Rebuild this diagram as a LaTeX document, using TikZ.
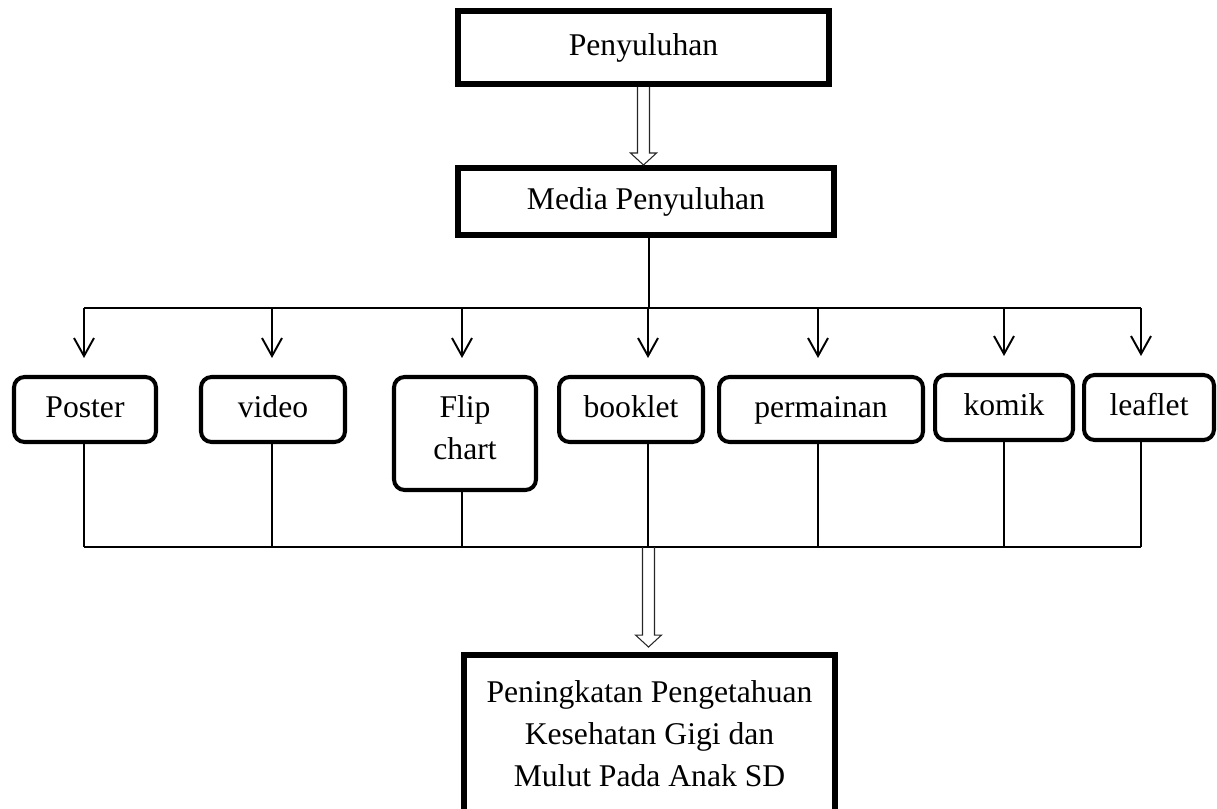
\documentclass[tikz,border=0pt]{standalone}
\usepackage{fontspec}
\setmainfont{Liberation Serif}
\usetikzlibrary{positioning, calc, arrows.meta}

% panah putih berongga (dari #1 ke ujung #2)
\newcommand{\panahhampa}[2]{%
  \draw[hampa] ($(#1)+(-6,0)$) -- ($(#2)+(-6,-12)$) -- ($(#2)+(-13,-12)$) -- (#2)
    -- ($(#2)+(13,-12)$) -- ($(#2)+(6,-12)$) -- ($(#1)+(6,0)$);}

\begin{document}
\begin{tikzpicture}[x=0.02cm, y=-0.02cm,
  kotak/.style={draw, line width=3.4pt, align=center, inner sep=0pt, font=\fontsize{18}{24}\selectfont},
  jenis/.style={draw, line width=2.3pt, rounded corners=6pt, align=center, inner sep=0pt, minimum height=1.30cm, font=\fontsize{18}{24}\selectfont, execute at begin node=\strut},
  garis/.style={line width=1.1pt},
  panah/.style={garis, -{Straight Barb[length=0.36cm, width=0.4cm]}, shorten >=0.34cm},
  hampa/.style={line width=0.6pt, black!85, line join=miter}]
\useasboundingbox (0,0) rectangle (1217,808);

% LAPIS 1: kotak utama
\node[kotak, minimum width=7.42cm, minimum height=1.46cm] (penyuluhan) at (643.5,47.5) {Penyuluhan};
\node[kotak, minimum width=7.52cm, minimum height=1.34cm] (media) at (646,201.5) {Media Penyuluhan};
\node[kotak, minimum width=7.42cm, minimum height=3.14cm] (hasil) at (649.5,733.5) {Peningkatan Pengetahuan\\Kesehatan Gigi dan\\Mulut Pada Anak SD};

% LAPIS 2: jenis media
\node[jenis, minimum width=2.84cm] (poster) at (85,409.5) {Poster};
\node[jenis, minimum width=2.88cm] (video) at (273,409.5) {video};
\node[jenis, minimum width=2.84cm, minimum height=2.26cm] (flip) at (465,433.5) {Flip\\chart};
\node[jenis, minimum width=2.88cm] (booklet) at (631,409.5) {booklet};
\node[jenis, minimum width=4.08cm] (permainan) at (821,409.5) {permainan};
\node[jenis, minimum width=2.76cm] (komik) at (1004,407.5) {komik};
\node[jenis, minimum width=2.60cm] (leaflet) at (1149,407.5) {leaflet};

% LAPIS 3: cabang atas dan bawah
\coordinate (cabang) at (649,308);
\draw[garis] (media.south -| cabang) -- (cabang);
\foreach \n/\x in {poster/84, video/272, flip/462, booklet/648, permainan/818, komik/1004, leaflet/1141}{
  \coordinate (atas-\n) at (\x,308);
  \coordinate (bawah-\n) at (\x,547);
  \draw[panah] (atas-\n) -- (atas-\n |- \n.north);
  \draw[garis] (bawah-\n |- \n.south) -- (bawah-\n);
}
\draw[garis] (atas-poster) -- (atas-leaflet);
\draw[garis] (bawah-poster) -- (bawah-leaflet);

% LAPIS 4: panah berongga
\coordinate (p1) at (penyuluhan.south);
\coordinate (p2) at (penyuluhan.south |- media.north);
\panahhampa{p1}{p2}
\coordinate (p3) at (648.5,547);
\coordinate (q) at (p3 |- hasil.north);
\coordinate (p4) at ([yshift=0.1cm]q);
\panahhampa{p3}{p4}
\end{tikzpicture}
\end{document}
